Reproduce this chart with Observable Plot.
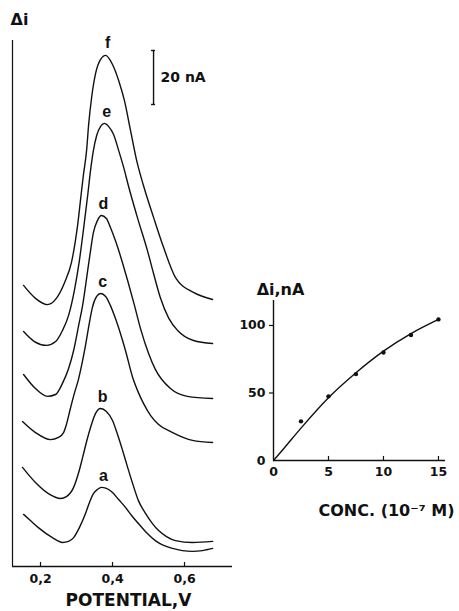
<!DOCTYPE html>
<html><head><meta charset="utf-8">
<script src="https://cdn.jsdelivr.net/npm/d3@7"></script>
<script src="https://cdn.jsdelivr.net/npm/@observablehq/plot@0.6"></script>
<style>
body{margin:0;background:#fff;}
#wrap{position:relative;width:459px;height:611px;overflow:hidden;background:#fff;}
#wrap svg{position:absolute;left:0;top:0;}
</style></head><body><div id="wrap"></div>
<script>
// ---- Left panel: differential pulse voltammograms (potential V, current nA, stacked) ----
const curveLabels = ["a", "b", "c", "d", "e", "f"];
const curveA = [[0.153,19.3],[0.172,17.0],[0.194,14.4],[0.233,10.7],[0.261,8.9],[0.278,9.3],[0.292,10.7],[0.308,14.4],[0.325,19.6],[0.336,23.7],[0.347,27.0],[0.358,28.5],[0.369,29.3],[0.383,28.9],[0.400,27.4],[0.417,24.8],[0.436,21.9],[0.453,18.9],[0.472,15.9],[0.494,12.6],[0.519,9.6],[0.542,7.8],[0.567,6.7],[0.594,5.9],[0.622,5.6],[0.650,5.9],[0.678,6.7]];
const curveB = [[0.150,36.7],[0.186,31.1],[0.222,27.0],[0.256,25.2],[0.272,25.9],[0.292,29.3],[0.306,34.8],[0.317,40.4],[0.328,46.3],[0.339,51.5],[0.353,56.7],[0.367,58.5],[0.383,57.4],[0.400,54.1],[0.414,48.9],[0.428,43.0],[0.442,36.7],[0.456,30.7],[0.472,24.4],[0.492,19.6],[0.511,15.9],[0.528,13.3],[0.550,11.1],[0.575,9.6],[0.622,8.9],[0.678,9.3]];
const curveC = [[0.150,53.7],[0.186,49.6],[0.228,47.0],[0.250,47.8],[0.264,49.6],[0.272,52.6],[0.283,58.5],[0.294,64.1],[0.306,69.6],[0.317,76.3],[0.325,81.9],[0.336,90.4],[0.344,95.9],[0.356,100.0],[0.367,101.1],[0.381,100.0],[0.394,96.7],[0.408,91.9],[0.428,83.7],[0.436,80.0],[0.456,70.0],[0.472,64.4],[0.486,60.4],[0.506,55.9],[0.528,52.6],[0.567,49.6],[0.622,46.7],[0.678,45.9]];
const curveD = [[0.153,71.1],[0.186,65.9],[0.219,63.0],[0.242,63.7],[0.261,67.8],[0.278,73.3],[0.292,80.0],[0.306,89.3],[0.317,96.7],[0.331,109.6],[0.339,117.0],[0.347,123.7],[0.358,128.1],[0.369,130.0],[0.383,128.9],[0.394,125.6],[0.408,120.7],[0.422,115.0],[0.442,105.9],[0.461,96.7],[0.478,88.0],[0.500,79.0],[0.519,73.0],[0.561,65.9],[0.608,63.0],[0.678,62.2]];
const curveE = [[0.153,87.0],[0.183,83.3],[0.217,81.9],[0.242,83.3],[0.261,87.4],[0.278,93.0],[0.294,102.2],[0.308,113.3],[0.319,124.4],[0.331,137.4],[0.339,146.7],[0.347,154.1],[0.356,159.6],[0.367,163.0],[0.378,164.1],[0.389,163.0],[0.403,160.0],[0.417,154.1],[0.431,147.8],[0.444,141.1],[0.469,129.3],[0.497,117.0],[0.514,108.5],[0.533,99.5],[0.556,92.0],[0.581,87.4],[0.625,83.7],[0.678,82.6]];
const curveF = [[0.153,104.1],[0.186,99.3],[0.219,97.0],[0.244,99.3],[0.267,105.2],[0.286,112.6],[0.297,120.7],[0.303,126.3],[0.311,135.6],[0.319,144.8],[0.328,154.1],[0.334,164.1],[0.342,173.7],[0.353,182.6],[0.367,187.8],[0.381,189.3],[0.392,187.8],[0.400,185.9],[0.417,180.0],[0.433,172.6],[0.450,161.5],[0.467,150.4],[0.486,141.1],[0.514,129.3],[0.542,118.1],[0.575,107.0],[0.625,101.5],[0.678,98.9]];
const potentialTicks = [0.2, 0.4, 0.6];
const potentialDomain = [0.1222, 0.7333];
const currentDomain = [0, 194.8];
const scaleBarV = 0.514, scaleBarBase = 171.1, scaleBarNA = 20;

// ---- Right panel: calibration ----
const conc = [2.5, 5, 7.5, 10, 12.5, 15];
const deltaI = [29, 47.5, 64, 80, 93, 104.5];
const fitConc = [0, 1, 2.5, 5, 7.5, 10, 12.5, 15];
const fitDeltaI = [0, 9.5, 24, 46.5, 65, 81, 94, 104.5];
const concTicks = [0, 5, 10, 15];
const deltaITicks = [0, 50, 100];
const concDomain = [0, 15.64];
const deltaIDomain = [0, 118.5];

const FONT = "DejaVu Sans, sans-serif";
const wrap = document.getElementById("wrap");

const curves = [curveA, curveB, curveC, curveD, curveE, curveF];
const rows = curves.flatMap((c, i) => c.map(([v, a]) => ({curve: curveLabels[i], V: v, I: a})));
const peaks = curves.map((c, i) => {
  const p = c.reduce((m, d) => d[1] > m[1] ? d : m);
  return {label: curveLabels[i], V: p[0], I: p[1]};
});
const vPerPx = (potentialDomain[1] - potentialDomain[0]) / (232 - 12);

const left = Plot.plot({
  width: 459, height: 611,
  marginLeft: 12, marginRight: 227, marginTop: 40, marginBottom: 45,
  style: {background: "transparent", fontFamily: FONT, fontWeight: "bold", color: "#111"},
  x: {domain: potentialDomain},
  y: {domain: currentDomain},
  marks: [
    Plot.ruleY([0], {stroke: "#111", strokeWidth: 1.6}),
    Plot.ruleX([potentialDomain[0]], {stroke: "#111", strokeWidth: 1.2}),
    Plot.ruleX(potentialTicks, {y1: 0, y2: 1.5, stroke: "#111", strokeWidth: 1.2}),
    Plot.axisX({ticks: potentialTicks, tickSize: 0, tickPadding: 8, fontSize: 12.5, fontWeight: "bold",
      tickFormat: d => d.toFixed(1).replace(".", ","), label: null}),
    Plot.axisY({ticks: [], label: null, tickSize: 0}),
    Plot.line(rows, {x: "V", y: "I", z: "curve", curve: "monotone-x", stroke: "#111", strokeWidth: 1.4}),
    Plot.text(peaks, {x: "V", y: "I", text: "label", dy: -12, dx: 2, fontSize: 16, fontWeight: "bold", fontFamily: "Liberation Sans, sans-serif", fill: "#111"}),
    Plot.ruleX([scaleBarV], {y1: scaleBarBase, y2: scaleBarBase + scaleBarNA, stroke: "#111", strokeWidth: 1.4}),
    Plot.ruleY([scaleBarBase, scaleBarBase + scaleBarNA], {x1: scaleBarV - 2 * vPerPx, x2: scaleBarV + 2 * vPerPx, stroke: "#111", strokeWidth: 1.4}),
    Plot.text([`${scaleBarNA} nA`], {x: scaleBarV, y: scaleBarBase + scaleBarNA / 2, dx: 7, textAnchor: "start", fontSize: 14, fontWeight: "bold", fill: "#111"}),
    Plot.text(["Δi"], {frameAnchor: "top-left", dx: -2, dy: -21, textAnchor: "start", lineAnchor: "middle", fontSize: 16, fontWeight: "bold", fill: "#111"}),
    Plot.text(["POTENTIAL,V"], {frameAnchor: "bottom", dx: 6, dy: 34, lineAnchor: "middle", fontSize: 17, fontWeight: "bold", fill: "#111"})
  ]
});
wrap.appendChild(left);

const pts = conc.map((c, i) => ({c, d: deltaI[i]}));
const fit = fitConc.map((c, i) => ({c, d: fitDeltaI[i]}));

const right = Plot.plot({
  width: 459, height: 611,
  marginLeft: 273, marginRight: 14, marginTop: 300, marginBottom: 151,
  style: {background: "transparent", fontFamily: FONT, fontWeight: "bold", color: "#111"},
  x: {domain: concDomain},
  y: {domain: deltaIDomain},
  marks: [
    Plot.ruleY([0], {stroke: "#111", strokeWidth: 1.6}),
    Plot.ruleX([0], {stroke: "#111", strokeWidth: 1.4}),
    Plot.ruleX(concTicks.filter(d => d > 0), {y1: 0, y2: 3, stroke: "#111", strokeWidth: 1.2}),
    Plot.ruleY(deltaITicks.filter(d => d > 0), {x1: -0.36, x2: 0, stroke: "#111", strokeWidth: 1.2}),
    Plot.axisX({ticks: concTicks, tickSize: 0, tickPadding: 7, fontSize: 12.5, fontWeight: "bold", label: null}),
    Plot.axisY({ticks: deltaITicks, tickSize: 0, tickPadding: 8, fontSize: 12.5, fontWeight: "bold", label: null}),
    Plot.line(fit, {x: "c", y: "d", curve: "monotone-x", stroke: "#111", strokeWidth: 1.4}),
    Plot.dot(pts, {x: "c", y: "d", r: 2.2, fill: "#111", stroke: "none"}),
    Plot.text(["Δi,nA"], {frameAnchor: "top-left", dx: 7, dy: -11, textAnchor: "middle", lineAnchor: "middle", fontSize: 16, fontWeight: "bold", fill: "#111"}),
    Plot.text(["CONC. (10⁻⁷ M)"], {frameAnchor: "bottom", dx: 27, dy: 50, lineAnchor: "middle", fontSize: 16, fontWeight: "bold", fill: "#111"})
  ]
});
wrap.appendChild(right);
</script>
</body></html>
